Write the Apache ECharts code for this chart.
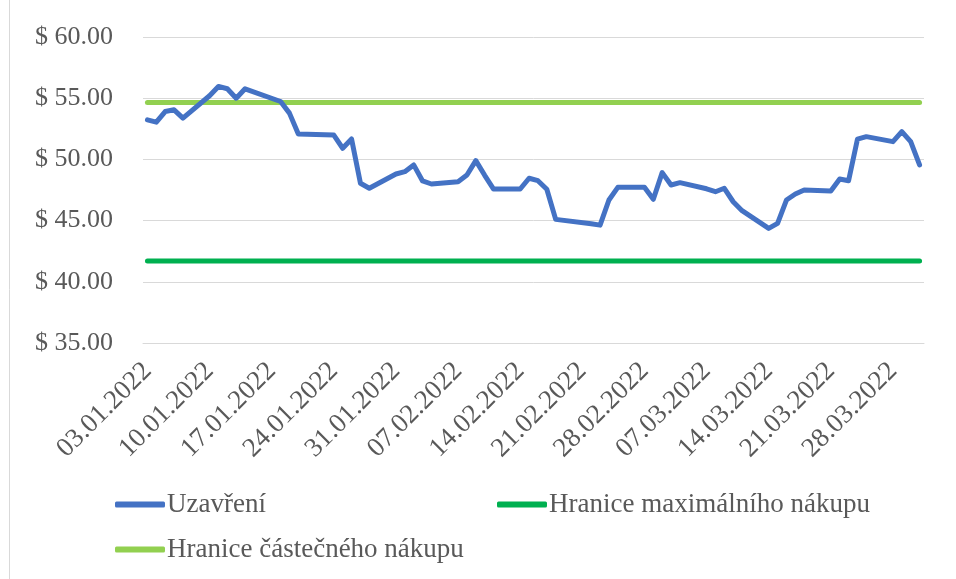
<!DOCTYPE html>
<html>
<head>
<meta charset="utf-8">
<script src="https://cdn.jsdelivr.net/npm/echarts@6/dist/echarts.min.js"></script>
<style>
  html, body { margin: 0; padding: 0; background: #fff; }
  #chart { width: 956px; height: 579px; }
</style>
</head>
<body>
<div id="chart"></div>
<script>
// obchodní dny a uzavírací ceny
var tradeDates = [
  '03.01.2022', '04.01.2022', '05.01.2022', '06.01.2022', '07.01.2022',
  '10.01.2022', '11.01.2022', '12.01.2022', '13.01.2022', '14.01.2022',
  '18.01.2022', '19.01.2022', '20.01.2022', '21.01.2022',
  '24.01.2022', '25.01.2022', '26.01.2022', '27.01.2022', '28.01.2022',
  '31.01.2022', '01.02.2022', '02.02.2022', '03.02.2022', '04.02.2022',
  '07.02.2022', '08.02.2022', '09.02.2022', '10.02.2022', '11.02.2022',
  '14.02.2022', '15.02.2022', '16.02.2022', '17.02.2022', '18.02.2022',
  '22.02.2022', '23.02.2022', '24.02.2022', '25.02.2022',
  '28.02.2022', '01.03.2022', '02.03.2022', '03.03.2022', '04.03.2022',
  '07.03.2022', '08.03.2022', '09.03.2022', '10.03.2022', '11.03.2022',
  '14.03.2022', '15.03.2022', '16.03.2022', '17.03.2022', '18.03.2022',
  '21.03.2022', '22.03.2022', '23.03.2022', '24.03.2022', '25.03.2022',
  '28.03.2022', '29.03.2022', '30.03.2022', '31.03.2022'
];
var closeValues = [
  53.23, 53.04, 53.91, 54.05, 53.37,
  55.20, 55.96, 55.77, 55.00, 55.77,
  54.73, 53.78, 52.08, 52.05,
  51.99, 50.91, 51.67, 48.05, 47.64,
  48.81, 49.00, 49.55, 48.24, 47.99,
  48.18, 48.73, 49.90, 48.70, 47.58,
  47.58, 48.46, 48.26, 47.56, 45.10,
  44.75, 44.63, 46.68, 47.72,
  47.72, 46.74, 48.92, 47.91, 48.10,
  47.60, 47.36, 47.64, 46.54, 45.81,
  44.36, 44.77, 46.68, 47.17, 47.50,
  47.42, 48.40, 48.26, 51.65, 51.86,
  51.45, 52.27, 51.45, 49.55
];
var maxBuyLimit = 41.7;      // Hranice maximálního nákupu
var partialBuyLimit = 54.65; // Hranice částečného nákupu
var seriesNames = ['Uzavření', 'Hranice maximálního nákupu', 'Hranice částečného nákupu'];

// kalendářní dny na ose (datová osa jako v Excelu)
var days = [];
var d = new Date(2022, 0, 3);
var end = new Date(2022, 2, 31);
while (d <= end) {
  days.push(('0' + d.getDate()).slice(-2) + '.' + ('0' + (d.getMonth() + 1)).slice(-2) + '.' + d.getFullYear());
  d.setDate(d.getDate() + 1);
}

var font = "'Liberation Serif', 'Times New Roman', serif";
var txt = '#595959';
var grid = '#D9D9D9';

var myChart = echarts.init(document.getElementById('chart'));

var closeData = tradeDates.map(function (t, i) { return [t, closeValues[i]]; });
var firstDay = days[0], lastDay = days[days.length - 1];

var option = {
  animation: false,
  backgroundColor: '#fff',
  grid: { left: 143, right: 32, top: 37, bottom: 236 },
  xAxis: {
    type: 'category',
    data: days,
    boundaryGap: true,
    axisLine: { lineStyle: { color: grid, width: 1 } },
    axisTick: { interval: 6, length: 6, lineStyle: { color: grid } },
    axisLabel: {
      interval: 6,
      rotate: 45,
      margin: 24,
      color: txt,
      fontFamily: font,
      fontSize: 27
    },
    splitLine: { show: false }
  },
  yAxis: {
    type: 'value',
    min: 35,
    max: 60,
    interval: 5,
    axisLine: { show: false },
    axisTick: { show: false },
    axisLabel: {
      margin: 30,
      color: txt,
      fontFamily: font,
      fontSize: 26,
      formatter: function (v) { return '$ ' + v.toFixed(2); }
    },
    splitLine: { lineStyle: { color: grid, width: 1 } }
  },
  legend: [
    { data: [seriesNames[0]], left: 115, top: 491 },
    { data: [seriesNames[1]], left: 497, top: 491 },
    { data: [seriesNames[2]], left: 115, top: 536 }
  ].map(function (l) {
    l.icon = 'roundRect';
    l.itemWidth = 50;
    l.itemHeight = 6;
    l.padding = 0;
    l.textStyle = { color: txt, fontFamily: font, fontSize: 27, padding: [0, 0, 0, -3] };
    return l;
  }),
  series: [
    {
      name: seriesNames[0],
      type: 'line',
      data: closeData,
      showSymbol: false,
      lineStyle: { color: '#4472C4', width: 5, cap: 'round', join: 'round' },
      itemStyle: { color: '#4472C4' },
      z: 3
    },
    {
      name: seriesNames[1],
      type: 'line',
      data: [[firstDay, maxBuyLimit], [lastDay, maxBuyLimit]],
      showSymbol: false,
      lineStyle: { color: '#00B050', width: 5, cap: 'round' },
      itemStyle: { color: '#00B050' },
      z: 2
    },
    {
      name: seriesNames[2],
      type: 'line',
      data: [[firstDay, partialBuyLimit], [lastDay, partialBuyLimit]],
      showSymbol: false,
      lineStyle: { color: '#92D050', width: 5, cap: 'round' },
      itemStyle: { color: '#92D050' },
      z: 2
    }
  ],
  graphic: [{
    type: 'line',
    shape: { x1: 9.5, y1: 0, x2: 9.5, y2: 579 },
    style: { stroke: grid, lineWidth: 1 }
  }]
};

myChart.setOption(option);
</script>
</body>
</html>
